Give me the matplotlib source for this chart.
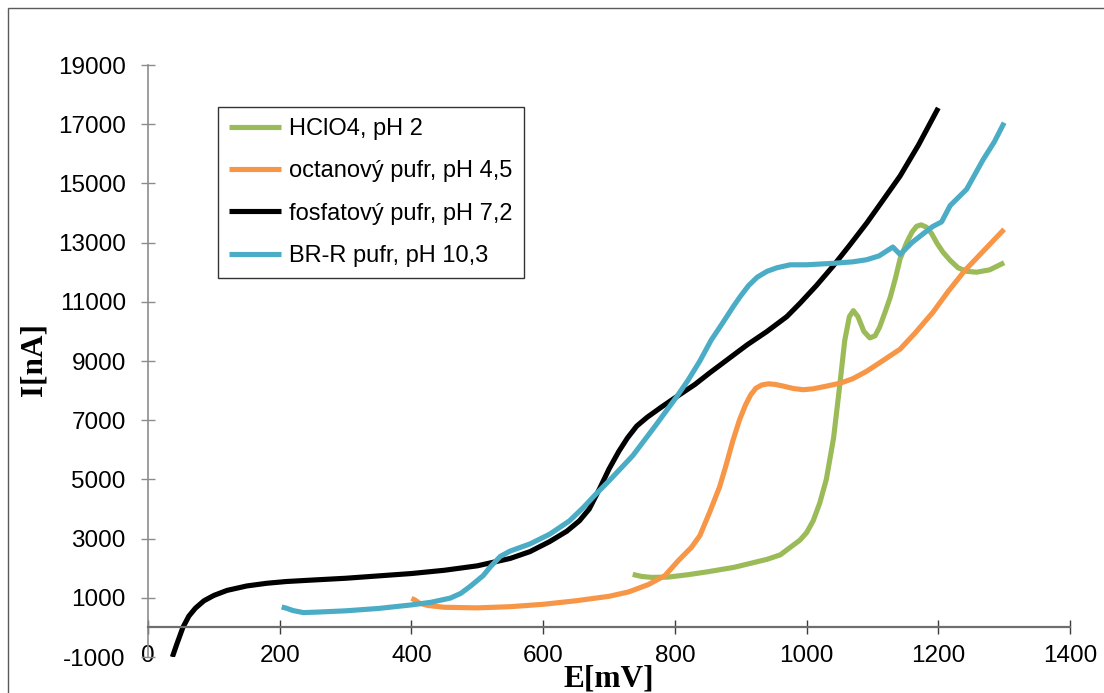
import matplotlib.pyplot as plt
from matplotlib.patches import Rectangle

plt.rcParams["axes.unicode_minus"] = False

# HClO4, pH 2
e_hclo4 = [736, 750, 765, 790, 820, 850, 890, 940, 960, 975, 990, 1000, 1010, 1020,
           1030, 1041, 1051, 1058, 1065, 1071, 1078, 1087, 1096, 1104, 1111, 1120,
           1127, 1135, 1142, 1152, 1160, 1167, 1174, 1182, 1190, 1198, 1207, 1218,
           1230, 1243, 1258, 1278, 1300]
i_hclo4 = [1790, 1720, 1690, 1700, 1780, 1880, 2030, 2300, 2450, 2700, 2950, 3200, 3600, 4200,
           5000, 6400, 8300, 9700, 10500, 10700, 10500, 10000, 9780, 9850, 10150, 10700,
           11150, 11800, 12450, 13000, 13350, 13550, 13600, 13520, 13300, 12980, 12680, 12400,
           12150, 12030, 12000, 12080, 12320]

# octanovy pufr, pH 4,5
e_oct = [400, 405, 412, 425, 450, 500, 550, 600, 650, 700, 730, 760, 785, 805, 825,
         838, 853, 868, 878, 888, 898, 907, 915, 923, 932, 942, 952, 965, 980, 995,
         1010, 1030, 1051, 1070, 1091, 1115, 1142, 1165, 1192, 1215, 1240, 1270, 1300]
i_oct = [980, 930, 820, 740, 680, 660, 700, 780, 900, 1050, 1200, 1450, 1750, 2250, 2700,
         3100, 3900, 4750, 5500, 6300, 7000, 7500, 7850, 8080, 8190, 8230, 8210, 8150, 8070, 8030,
         8060, 8150, 8250, 8400, 8650, 9000, 9400, 9950, 10650, 11350, 12050, 12750, 13450]

# fosfatovy pufr, pH 7,2
e_fos = [37, 44, 53, 62, 72, 85, 100, 120, 150, 180, 210, 250, 300, 350, 400, 450, 500,
         550, 580, 610, 636, 655, 670, 686, 700, 715, 728, 742, 758, 780, 803, 830, 853,
         880, 910, 940, 970, 990, 1015, 1040, 1065, 1091, 1115, 1142, 1170, 1200]
i_fos = [-1000, -550, 0, 380, 650, 900, 1080, 1250, 1400, 1490, 1550, 1600, 1660, 1740, 1820, 1930, 2080,
         2330, 2560, 2900, 3250, 3600, 4000, 4700, 5350, 5950, 6400, 6800, 7100, 7450, 7800, 8200, 8600,
         9050, 9550, 10000, 10500, 10950, 11550, 12200, 12900, 13650, 14400, 15250, 16300, 17550]

# BR-R pufr, pH 10,3
e_br = [203, 210, 220, 236, 260, 300, 350, 400, 430, 459, 475, 490, 509, 520, 535, 550,
        580, 610, 640, 661, 680, 700, 736, 770, 803, 820, 838, 855, 873, 889, 900, 912,
        925, 940, 955, 975, 1000, 1040, 1070, 1091, 1110, 1131, 1142, 1160, 1180, 1192,
        1205, 1218, 1243, 1268, 1285, 1300]
i_br = [690, 650, 570, 500, 520, 560, 640, 760, 850, 990, 1150, 1400, 1750, 2050, 2400, 2580,
        2820, 3150, 3600, 4050, 4500, 4950, 5800, 6800, 7800, 8350, 9000, 9700, 10300, 10850, 11200, 11550,
        11830, 12030, 12150, 12250, 12250, 12300, 12350, 12420, 12550, 12850, 12600, 13000, 13350, 13550,
        13700, 14250, 14800, 15800, 16400, 17050]

series = [
    (e_hclo4, i_hclo4, "HClO4, pH 2", "#9BBB59"),
    (e_oct, i_oct, "octanový pufr, pH 4,5", "#F79646"),
    (e_fos, i_fos, "fosfatový pufr, pH 7,2", "#000000"),
    (e_br, i_br, "BR-R pufr, pH 10,3", "#4BACC6"),
]

W, H = 1104, 693
fig = plt.figure(figsize=(W / 100, H / 100), dpi=100)
ax = fig.add_axes([148 / W, 36 / H, (1070 - 148) / W, (657 - 65) / H])

for e, i, label, color in series:
    ax.plot(e, i, color=color, lw=3.7, label=label, solid_joinstyle="round",
            solid_capstyle="butt")

ax.set_xlim(0, 1400)
ax.set_ylim(-1000, 19000)
ax.set_xticks(range(0, 1401, 200))
ax.set_yticks(range(-1000, 19001, 2000))

ax.spines["top"].set_visible(False)
ax.spines["right"].set_visible(False)
ax.spines["left"].set_color("#8c8c8c")
ax.spines["left"].set_linewidth(1.2)
ax.spines["bottom"].set_position(("data", 0))
ax.spines["bottom"].set_color("#6e6e6e")
ax.spines["bottom"].set_linewidth(1.6)

tick_font = "Liberation Sans"
ax.tick_params(axis="y", direction="inout", length=10, width=1, color="#8c8c8c",
               pad=11, labelsize=17.5)
ax.tick_params(axis="x", direction="inout", length=10, width=1, color="#3c3c3c",
               pad=8, labelsize=17.5)
for lab in ax.get_xticklabels() + ax.get_yticklabels():
    lab.set_fontfamily(tick_font)

leg = ax.legend(loc="upper left", bbox_to_anchor=(218 / W, 1 - 107 / H),
                bbox_transform=fig.transFigure, frameon=True, fancybox=False,
                prop={"family": tick_font, "size": 17}, handlelength=2.2,
                handletextpad=0.35, labelspacing=0.86, borderpad=0.47,
                borderaxespad=0)
leg.get_frame().set_edgecolor("#000000")
leg.get_frame().set_linewidth(1.0)
for h in leg.get_lines():
    h.set_linewidth(3.7)

fig.text(609 / W, 1 - 679 / H, "E[mV]", ha="center", va="center",
         fontfamily="Liberation Serif", fontweight="bold", fontsize=22.5)
fig.text(34 / W, 1 - 360 / H, "I[nA]", ha="center", va="center", rotation=90,
         fontfamily="Liberation Serif", fontweight="bold", fontsize=22.5)

# outer chart frame
fig.patches.append(Rectangle((8 / W, -0.05), 1.2, 1.05 - 8 / H,
                             transform=fig.transFigure, fill=False,
                             ec="#5a5a5a", lw=1))

fig.savefig("out.png", dpi=100)
